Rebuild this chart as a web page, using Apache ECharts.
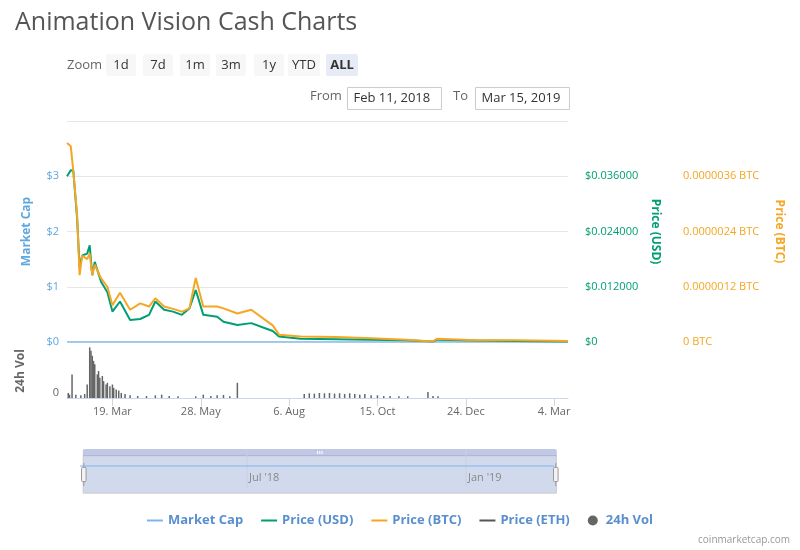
<!DOCTYPE html>
<html><head><meta charset="utf-8">
<script src="https://cdn.jsdelivr.net/npm/echarts@6/dist/echarts.min.js"></script>
<style>body{margin:0;background:#fff}#c{width:800px;height:550px}</style>
</head><body><div id="c"></div>
<script>
const BLUE = '#7cb5ec', GREEN = '#009e73', ORANGE = '#f5a623', GREY = '#555';

const dates = ['2018-02-11','2018-02-14','2018-02-16','2018-02-19','2018-02-21','2018-02-23','2018-02-27','2018-03-01','2018-03-03','2018-03-05','2018-03-10','2018-03-15','2018-03-19','2018-03-25','2018-04-02','2018-04-10','2018-04-17','2018-04-22','2018-04-29','2018-05-06','2018-05-13','2018-05-19','2018-05-24','2018-05-30','2018-06-10','2018-06-15','2018-06-26','2018-07-07','2018-07-18','2018-07-24','2018-07-29','2018-08-15','2018-09-12','2018-10-10','2018-11-07','2018-11-28','2018-12-01','2019-01-01','2019-02-01','2019-03-15'];
const priceUsd = [0.036,0.0373,0.0372,0.0269,0.0161,0.0188,0.0192,0.021,0.0145,0.0174,0.0131,0.0108,0.0066,0.0088,0.0048,0.005,0.0059,0.0088,0.007,0.0066,0.0059,0.0073,0.0113,0.0059,0.0055,0.0044,0.0037,0.0041,0.003,0.0024,0.0012,0.0007,0.0006,0.0005,0.0004,0.0001,0.0005,0.0003,0.0002,0.0001];
const priceBtc = [4.32e-6,4.25e-6,3.71e-6,2.76e-6,1.45e-6,1.88e-6,1.8e-6,1.92e-6,1.45e-6,1.68e-6,1.38e-6,1.2e-6,0.8e-6,1.07e-6,0.7e-6,0.84e-6,0.77e-6,0.95e-6,0.77e-6,0.72e-6,0.66e-6,0.73e-6,1.39e-6,0.77e-6,0.77e-6,0.73e-6,0.62e-6,0.7e-6,0.48e-6,0.36e-6,0.16e-6,0.12e-6,0.11e-6,0.08e-6,0.05e-6,0.01e-6,0.07e-6,0.04e-6,0.04e-6,0.02e-6];
const marketCap = dates.map(() => 0);

const volDates = ['2018-02-12','2018-02-13','2018-02-15','2018-02-18','2018-02-22','2018-02-25','2018-02-27','2018-03-01','2018-03-02','2018-03-03','2018-03-04','2018-03-05','2018-03-07','2018-03-08','2018-03-09','2018-03-11','2018-03-12','2018-03-14','2018-03-15','2018-03-17','2018-03-19','2018-03-20','2018-03-22','2018-03-24','2018-03-26','2018-03-29','2018-04-02','2018-04-08','2018-04-15','2018-04-22','2018-04-27','2018-05-03','2018-05-10','2018-05-24','2018-05-30','2018-06-05','2018-06-10','2018-06-15','2018-06-20','2018-06-26','2018-08-18','2018-08-22','2018-08-26','2018-08-30','2018-09-03','2018-09-07','2018-09-11','2018-09-15','2018-09-19','2018-09-23','2018-09-27','2018-10-01','2018-10-05','2018-10-10','2018-10-15','2018-10-20','2018-10-25','2018-11-01','2018-11-08','2018-11-24','2018-11-28','2018-12-02'];
const volume = [15,10,70,10,8,12,40,150,140,125,110,100,70,80,60,65,50,40,45,35,40,30,25,22,15,12,8,6,6,8,10,6,5,5,10,6,8,9,5,45,12,14,13,15,14,15,13,14,12,14,12,10,12,8,8,6,6,5,5,18,6,5];

const ts = d => +new Date(d + 'T00:00:00Z');
const ticks = ['2018-03-19','2018-05-28','2018-08-06','2018-10-15','2018-12-24','2019-03-04'].map(ts);
const MON = ['Jan','Feb','Mar','Apr','May','Jun','Jul','Aug','Sep','Oct','Nov','Dec'];
const xMin = ts('2018-02-11'), xMax = ts('2019-03-15');
const pair = arr => arr.map((v, i) => [ts(dates[i]), v]);
const font = '"Open Sans", sans-serif';
const LINE_ICON = 'path://M0,0 L16,0 L16,2 L0,2 Z';

const chart = echarts.init(document.getElementById('c'));
const btn = (x, w, t, bold) => ({type: 'group', left: x, top: 54, children: [
  {type: 'rect', shape: {width: w, height: 22, r: 2}, style: {fill: bold ? '#e6ebf5' : '#f7f7f7'}},
  {type: 'text', x: w / 2, y: 11, style: {text: t, fill: '#333', font: (bold ? 'bold ' : '') + '13px ' + font, align: 'center', verticalAlign: 'middle'}}
]});
const box = (x, w, t) => ({type: 'group', left: x, top: 87, children: [
  {type: 'rect', shape: {width: w, height: 22}, style: {fill: '#fff', stroke: '#ccc'}},
  {type: 'text', x: 6, y: 11, style: {text: t, fill: '#333', font: '13px ' + font, verticalAlign: 'middle'}}
]});
const xAxisBase = {type: 'value', min: xMin, max: xMax, splitLine: {show: false}};

chart.setOption({
  animation: false,
  textStyle: {fontFamily: font},
  title: {text: 'Animation Vision Cash Charts', left: 10, top: 5, textStyle: {fontSize: 25, fontWeight: 'normal', color: '#555'}},
  legend: {
    bottom: 18, left: 'center', itemGap: 18, itemWidth: 16, itemHeight: 10,
    textStyle: {color: '#5a8fcf', fontSize: 13, fontWeight: 'bold'},
    data: [
      {name: 'Market Cap', icon: LINE_ICON, itemStyle: {color: BLUE}},
      {name: 'Price (USD)', icon: LINE_ICON, itemStyle: {color: GREEN}},
      {name: 'Price (BTC)', icon: LINE_ICON, itemStyle: {color: ORANGE}},
      {name: 'Price (ETH)', icon: LINE_ICON, itemStyle: {color: GREY}},
      {name: '24h Vol', icon: 'circle', itemStyle: {color: '#666'}}
    ]
  },
  graphic: [
    {type: 'text', left: 67, top: 59, style: {text: 'Zoom', fill: '#666', font: '13px ' + font}},
    btn(106, 30, '1d'), btn(143, 30, '7d'), btn(180, 30, '1m'), btn(216, 30, '3m'),
    btn(254, 30, '1y'), btn(288, 32, 'YTD'), btn(326, 32, 'ALL', true),
    {type: 'text', left: 310, top: 90, style: {text: 'From', fill: '#666', font: '13px ' + font}},
    box(347, 94, 'Feb 11, 2018'),
    {type: 'text', left: 453, top: 90, style: {text: 'To', fill: '#666', font: '13px ' + font}},
    box(475, 94, 'Mar 15, 2019'),
    {type: 'line', z: 100, shape: {x1: 247, y1: 449, x2: 247, y2: 487}, style: {stroke: '#c8cfe0'}},
    {type: 'line', z: 100, shape: {x1: 466, y1: 449, x2: 466, y2: 487}, style: {stroke: '#c8cfe0'}},
    {type: 'line', z: 100, shape: {x1: 80, y1: 466, x2: 554, y2: 466}, style: {stroke: '#7cb5ec', lineWidth: 1}},
    {type: 'text', z: 100, left: 249, top: 472, style: {text: "Jul '18", fill: '#888', font: '11px ' + font}},
    {type: 'text', z: 100, left: 468, top: 472, style: {text: "Jan '19", fill: '#888', font: '11px ' + font}},
    {type: 'text', right: 10, bottom: 5, style: {text: 'coinmarketcap.com', fill: '#999', font: '10px ' + font}}
  ],
  grid: [
    {left: 67, right: 232, top: 121, height: 221},
    {left: 67, right: 232, top: 344, height: 54}
  ],
  xAxis: [
    Object.assign({gridIndex: 0, axisLine: {show: false}, axisTick: {show: false}, axisLabel: {show: false}}, xAxisBase),
    Object.assign({gridIndex: 1,
      axisLine: {lineStyle: {color: '#ccd6eb'}},
      axisTick: {customValues: ticks, length: 8, lineStyle: {color: '#ccd6eb'}},
      axisLabel: {customValues: ticks, color: '#666', fontSize: 11, formatter: v => { const d = new Date(v); return d.getUTCDate() + '. ' + MON[d.getUTCMonth()]; }}}, xAxisBase)
  ],
  yAxis: [
    {type: 'value', gridIndex: 0, min: 0, max: 4, interval: 1, name: 'Market Cap', nameLocation: 'middle', nameGap: 34,
      nameTextStyle: {color: '#5fa8de', fontWeight: 'bold', fontSize: 12},
      axisLine: {show: false}, axisTick: {show: false},
      axisLabel: {color: '#5fa8de', fontSize: 11, showMaxLabel: false, formatter: v => '$' + v},
      splitLine: {lineStyle: {color: '#e6e6e6'}}},
    {type: 'value', gridIndex: 0, position: 'right', min: 0, max: 0.048, interval: 0.012, name: 'Price (USD)', nameLocation: 'middle', nameGap: 80, nameRotate: -90,
      nameTextStyle: {color: GREEN, fontWeight: 'bold', fontSize: 12},
      axisLine: {show: false}, axisTick: {show: false},
      axisLabel: {color: GREEN, fontSize: 11, margin: 17, showMaxLabel: false, formatter: v => v === 0 ? '$0' : '$' + v.toFixed(6)},
      splitLine: {show: false}},
    {type: 'value', gridIndex: 0, position: 'right', offset: 98, min: 0, max: 4.8e-6, interval: 1.2e-6, name: 'Price (BTC)', nameLocation: 'middle', nameGap: 107, nameRotate: -90,
      nameTextStyle: {color: ORANGE, fontWeight: 'bold', fontSize: 12},
      axisLine: {show: false}, axisTick: {show: false},
      axisLabel: {color: ORANGE, fontSize: 11, margin: 17, showMaxLabel: false, formatter: v => v === 0 ? '0 BTC' : v.toFixed(7) + ' BTC'},
      splitLine: {show: false}},
    {type: 'value', gridIndex: 1, min: 0, max: 160, name: '24h Vol', nameLocation: 'middle', nameGap: 40,
      nameTextStyle: {color: '#666', fontWeight: 'bold', fontSize: 12},
      axisLine: {show: false},
      axisLabel: {color: '#666', fontSize: 11, customValues: [0], verticalAlign: 'bottom'}, axisTick: {show: false}, splitLine: {show: false}}
  ],
  dataZoom: [{
    type: 'slider', xAxisIndex: [0, 1], left: 80, right: 246, top: 449, height: 38,
    showDetail: false, showDataShadow: false, borderColor: '#ccc', backgroundColor: '#fff',
    fillerColor: 'rgba(102,133,194,0.3)',
    handleSize: '60%', handleStyle: {color: '#f2f2f2', borderColor: '#999'}
  }],
  series: [
    {name: 'Market Cap', type: 'line', xAxisIndex: 0, yAxisIndex: 0, showSymbol: false, data: pair(marketCap), lineStyle: {color: BLUE, width: 1.5}, itemStyle: {color: BLUE}},
    {name: 'Price (USD)', type: 'line', xAxisIndex: 0, yAxisIndex: 1, showSymbol: false, data: pair(priceUsd), lineStyle: {color: GREEN, width: 2}, itemStyle: {color: GREEN}},
    {name: 'Price (BTC)', type: 'line', xAxisIndex: 0, yAxisIndex: 2, showSymbol: false, data: pair(priceBtc), lineStyle: {color: ORANGE, width: 2}, itemStyle: {color: ORANGE}},
    {name: 'Price (ETH)', type: 'line', xAxisIndex: 0, yAxisIndex: 1, showSymbol: false, data: [], itemStyle: {color: GREY}},
    {name: '24h Vol', type: 'bar', xAxisIndex: 1, yAxisIndex: 3, barWidth: 1.5, data: volume.map((v, i) => [ts(volDates[i]), v]), itemStyle: {color: '#666'}}
  ]
});
</script></body></html>
